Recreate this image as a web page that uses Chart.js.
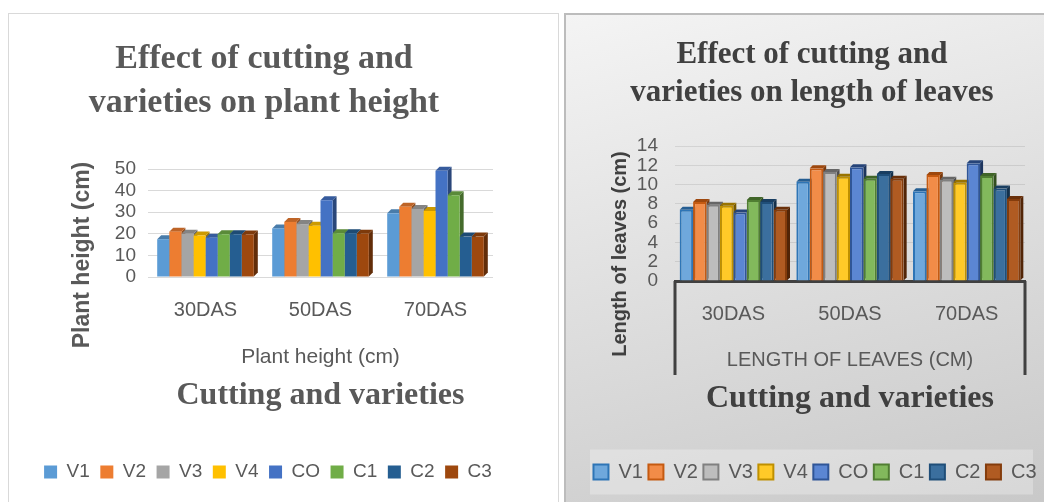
<!DOCTYPE html>
<html>
<head>
<meta charset="utf-8">
<script src="https://cdn.jsdelivr.net/npm/chart.js@4"></script>
<style>
  body { margin: 0; width: 1044px; height: 502px; overflow: hidden; position: relative; background: #fff; font-family: "Liberation Sans", Arial, sans-serif; }
  .panel { position: absolute; top: 13px; height: 500px; box-sizing: border-box; }
  #leftPanel { left: 8px; width: 551px; border: 1px solid #d9d9d9; background: #fff; }
  #rightPanel { left: 564px; width: 482px; border: 2px solid #bcbcbc; background: linear-gradient(165deg, #f4f4f4 0%, #e0e0e0 45%, #c8c8c8 100%); }
  .panel canvas { position: absolute; left: 0; top: 0; }
  .ttl { position: absolute; font-family: "Liberation Serif", "Times New Roman", serif; font-weight: bold; text-align: center; white-space: nowrap; }
  .ytitle { position: absolute; width: 300px; height: 30px; line-height: 30px; text-align: center; white-space: nowrap; font-family: "Liberation Sans", Arial, sans-serif; font-weight: bold; transform: rotate(-90deg); }
</style>
</head>
<body>
<div class="panel" id="leftPanel"><canvas id="heightChart" width="549" height="488"></canvas></div>
<div class="panel" id="rightPanel"><canvas id="leafChart" width="478" height="488"></canvas></div>
<div class="ttl" style="left:14px;width:500px;top:35px;font-size:34px;line-height:44px;color:#595959">Effect of cutting and<br>varieties on plant height</div>
<div class="ttl" style="left:582px;width:460px;top:34px;font-size:31px;line-height:38px;color:#404040">Effect of cutting and<br>varieties on length of leaves</div>
<div class="ytitle" style="left:-69px;top:240px;font-size:23px;color:#595959">Plant height (cm)</div>
<div class="ytitle" style="left:469px;top:239px;font-size:20px;color:#404040">Length of leaves (cm)</div>
<script>
const categories = ["30DAS", "50DAS", "70DAS"];
const seriesNames = ["V1", "V2", "V3", "V4", "CO", "C1", "C2", "C3"];

// plant height (cm)
const heightV1 = [17.5, 22.5, 29.5];
const heightV2 = [21, 25.5, 32.5];
const heightV3 = [20, 24.5, 31.5];
const heightV4 = [19.2, 23.7, 30.5];
const heightCO = [18.2, 35.5, 49.2];
const heightC1 = [19.8, 20.3, 37.8];
const heightC2 = [19.8, 20.3, 18.7];
const heightC3 = [19.7, 20, 18.7];

// length of leaves (cm)
const leafV1 = [7.4, 10.3, 9.3];
const leafV2 = [8.2, 11.7, 11.0];
const leafV3 = [7.9, 11.3, 10.5];
const leafV4 = [7.8, 10.8, 10.2];
const leafCO = [7.1, 11.8, 12.2];
const leafC1 = [8.4, 10.6, 10.9];
const leafC2 = [8.2, 11.1, 9.6];
const leafC3 = [7.4, 10.6, 8.5];

const heightTicks = [0, 10, 20, 30, 40, 50];
const leafTicks = [0, 2, 4, 6, 8, 10, 12, 14];

const officeColors = ["#5B9BD5", "#ED7D31", "#A5A5A5", "#FFC000", "#4472C4", "#70AD47", "#255E91", "#9E480E"];
const leafFill = ["#6fa8dc", "#f28c48", "#bdbdbd", "#ffca28", "#5b86d3", "#82b95c", "#3b6f9e", "#b05b22"];
const leafBorder = ["#2e75b6", "#c55a11", "#808080", "#bf9000", "#2f5597", "#507e32", "#1f4e79", "#843c0c"];

function shade(hex, f) {
  const n = parseInt(hex.slice(1), 16);
  const r = Math.round(((n >> 16) & 255) * f), g = Math.round(((n >> 8) & 255) * f), b = Math.round((n & 255) * f);
  return `rgb(${r},${g},${b})`;
}

// side and top faces so the bars look like Excel's 3D columns
const bar3d = {
  id: "bar3d",
  beforeDatasetsDraw(chart, args, opts) {
    const ctx = chart.ctx, d = opts.depth;
    ctx.save();
    chart.data.datasets.forEach((ds, i) => {
      const meta = chart.getDatasetMeta(i);
      const base = opts.colors[i];
      meta.data.forEach(bar => {
        const { x, y, base: b, width } = bar.getProps(["x", "y", "base", "width"], true);
        const l = x - width / 2, r = x + width / 2;
        ctx.fillStyle = shade(base, 0.62);
        ctx.beginPath();
        ctx.moveTo(r, y); ctx.lineTo(r + d, y - d); ctx.lineTo(r + d, b - d); ctx.lineTo(r, b);
        ctx.closePath(); ctx.fill();
        ctx.fillStyle = shade(base, 0.8);
        ctx.beginPath();
        ctx.moveTo(l, y); ctx.lineTo(l + d, y - d); ctx.lineTo(r + d, y - d); ctx.lineTo(r, y);
        ctx.closePath(); ctx.fill();
      });
    });
    ctx.restore();
  }
};

// category box lines under the leaf chart and the pale legend panel
const leafDecor = {
  id: "leafDecor",
  beforeDraw(chart) {
    const lg = chart.legend, ctx = chart.ctx;
    ctx.save();
    ctx.fillStyle = "rgba(255,255,255,0.28)";
    ctx.fillRect(24, lg.top - 7, 443, 45);
    ctx.restore();
  },
  afterDraw(chart) {
    const xs = chart.scales.x, ctx = chart.ctx;
    ctx.save();
    ctx.strokeStyle = "#404040";
    ctx.lineWidth = 3;
    ctx.beginPath();
    ctx.moveTo(xs.left, xs.top); ctx.lineTo(xs.left, xs.top + 94);
    ctx.moveTo(xs.right, xs.top); ctx.lineTo(xs.right, xs.top + 94);
    ctx.stroke();
    ctx.restore();
  }
};

const heightSeries = [heightV1, heightV2, heightV3, heightV4, heightCO, heightC1, heightC2, heightC3];
const leafSeries = [leafV1, leafV2, leafV3, leafV4, leafCO, leafC1, leafC2, leafC3];

// an empty right-hand axis that only reserves space
function spacer(w) {
  return {
    position: "right", display: true,
    grid: { display: false }, border: { display: false }, ticks: { display: false },
    afterFit: s => { s.width = w; }
  };
}

new Chart(document.getElementById("heightChart"), {
  type: "bar",
  data: {
    labels: categories,
    datasets: seriesNames.map((name, i) => ({
      label: name,
      data: heightSeries[i],
      backgroundColor: officeColors[i],
      borderWidth: 0,
      categoryPercentage: 0.84,
      barPercentage: 1
    }))
  },
  plugins: [bar3d],
  options: {
    responsive: false,
    animation: false,
    layout: { padding: { left: 0, right: 31, top: 155, bottom: 10.5 } },
    scales: {
      x: {
        grid: { display: false, drawTicks: false },
        border: { display: false },
        ticks: { color: "#595959", font: { family: "Liberation Sans", size: 20 }, padding: 21 },
        title: { display: true, text: "Plant height (cm)", color: "#595959", font: { family: "Liberation Sans", size: 21 }, padding: { top: 1.4, bottom: 0 } }
      },
      y: {
        min: 0, max: 50,
        afterBuildTicks: s => { s.ticks = heightTicks.map(v => ({ value: v })); },
        afterFit: s => { s.width = 139; },
        grid: { color: "#d9d9d9", drawTicks: false },
        border: { display: false },
        ticks: { color: "#595959", font: { family: "Liberation Sans", size: 19 }, padding: 12, autoSkip: false }
      },
      pad: spacer(34)
    },
    plugins: {
      bar3d: { depth: 4, colors: officeColors },
      tooltip: { enabled: false },
      subtitle: {
        display: true, text: "Cutting and varieties", position: "bottom", weight: 500, fullSize: false,
        color: "#595959", font: { family: "Liberation Serif", size: 32, weight: "bold" },
        padding: { top: 7.2, bottom: 36.8 }
      },
      legend: {
        position: "bottom",
        labels: { color: "#595959", font: { family: "Liberation Sans", size: 19 }, boxWidth: 13, boxHeight: 13, padding: 10.5 }
      }
    }
  }
});

new Chart(document.getElementById("leafChart"), {
  type: "bar",
  data: {
    labels: categories,
    datasets: seriesNames.map((name, i) => ({
      label: name,
      data: leafSeries[i],
      backgroundColor: leafFill[i],
      borderColor: leafBorder[i],
      borderWidth: 2,
      categoryPercentage: 0.92,
      barPercentage: 1
    }))
  },
  plugins: [bar3d, leafDecor],
  options: {
    responsive: false,
    animation: false,
    layout: { padding: { left: 20, right: 0, top: 131, bottom: 11 } },
    scales: {
      x: {
        grid: { display: false, drawTicks: false },
        border: { display: true, color: "#404040", width: 3 },
        ticks: { color: "#595959", font: { family: "Liberation Sans", size: 20 }, padding: 21.5 },
        title: { display: true, text: "LENGTH OF LEAVES (CM)", color: "#595959", font: { family: "Liberation Sans", size: 20 }, padding: { top: 0, bottom: 0 } }
      },
      y: {
        min: 0, max: 14,
        afterBuildTicks: s => { s.ticks = leafTicks.map(v => ({ value: v })); },
        afterFit: s => { s.width = 89; },
        grid: { color: "rgba(0,0,0,0.09)", drawTicks: false },
        border: { display: false },
        ticks: { color: "#595959", font: { family: "Liberation Sans", size: 19 }, padding: 17, autoSkip: false }
      },
      pad: spacer(19)
    },
    plugins: {
      bar3d: { depth: 3, colors: leafBorder },
      tooltip: { enabled: false },
      subtitle: {
        display: true, text: "Cutting and varieties", position: "bottom", weight: 500, fullSize: false,
        color: "#404040", font: { family: "Liberation Serif", size: 32, weight: "bold" },
        padding: { top: 7.8, bottom: 38.3 }
      },
      legend: {
        position: "bottom",
        labels: { color: "#595959", font: { family: "Liberation Sans", size: 20 }, boxWidth: 15, boxHeight: 15, padding: 5.5 }
      }
    }
  }
});
</script>
</body>
</html>
